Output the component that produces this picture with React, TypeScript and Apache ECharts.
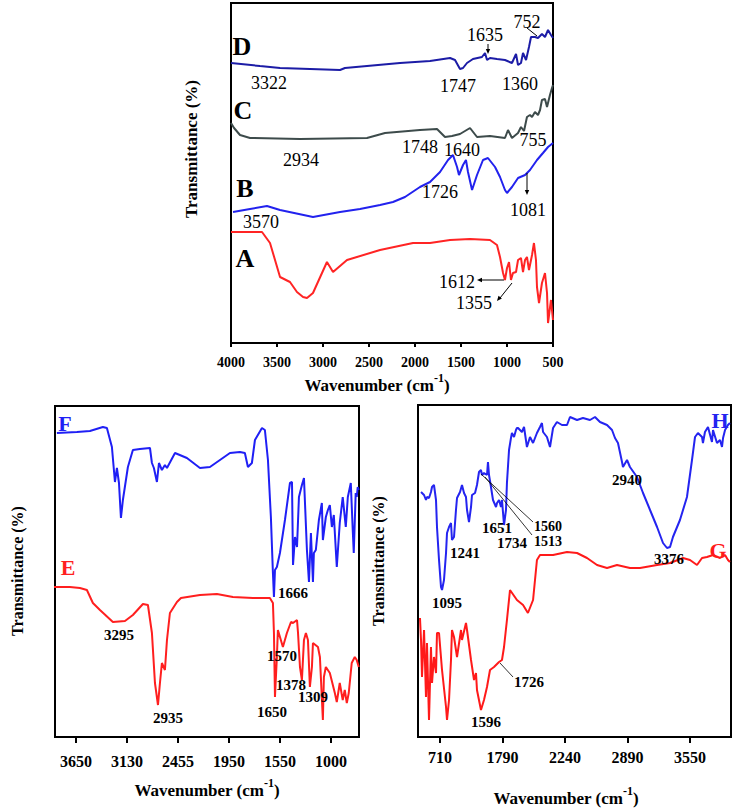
import React, { useEffect, useRef } from "react";
import * as echarts from "echarts";

// ---------- Top panel (linear axis, wavenumber 4000 -> 500) ----------
const TOP_TICKS = [4000, 3500, 3000, 2500, 2000, 1500, 1000, 500];

const SERIES_D = [[4000,280],[3685,277],[3467,275],[3141,274],[2815,273],[2761,275],[2163,280],[1837,282],[1619,285],[1565,283],[1511,274],[1478,275],[1435,280],[1370,284],[1272,286],[1239,290],[1217,283],[1185,285],[1109,284],[1022,283],[946,280],[902,289],[880,278],[848,280],[826,290],[793,283],[761,296],[739,306],[696,306],[663,305],[620,309],[587,306],[554,313],[522,308],[500,305]];
const SERIES_C = [[4000,220],[3967,215],[3902,208],[3793,205],[3250,204],[2522,205],[2326,210],[1946,213],[1761,214],[1674,206],[1598,207],[1511,209],[1402,215],[1326,206],[1185,207],[1022,205],[989,213],[946,205],[880,210],[848,216],[815,212],[783,226],[750,228],[728,226],[696,231],[663,228],[641,233],[620,243],[587,244],[565,236],[533,248],[511,255],[500,258]];
const SERIES_B = [[3978,131],[3793,134],[3609,137],[3467,133],[3109,126],[2815,131],[2598,134],[2380,138],[2239,141],[2109,146],[1946,156],[1837,161],[1728,171],[1641,183],[1587,188],[1543,176],[1522,168],[1478,178],[1446,183],[1424,171],[1380,153],[1326,168],[1261,183],[1207,185],[1130,176],[1076,166],[1022,153],[1000,150],[946,156],[880,165],[804,168],[750,173],[674,183],[609,190],[554,196],[500,200]];
const SERIES_A = [[4000,111],[3663,111],[3576,100],[3467,66],[3359,61],[3283,51],[3217,46],[3174,45],[3109,50],[2957,81],[2891,71],[2739,83],[2380,93],[2022,100],[1837,100],[1619,103],[1402,104],[1185,103],[1109,98],[1076,86],[1043,70],[1022,63],[1000,75],[978,81],[957,63],[935,70],[902,71],[880,83],[848,85],[826,71],[804,83],[783,86],[761,73],[728,88],[707,100],[685,83],[674,56],[652,40],[620,60],[587,70],[565,50],[554,20],[522,43],[500,23]];

// ---------- Bottom-left panel (tick labels evenly spaced) ----------
const LEFT_TICKS = [3650, 3130, 2455, 1950, 1550, 1000];

const SERIES_F = [[3844,304],[3640,305],[3507,306],[3375,310],[3334,309],[3283,290],[3252,255],[3232,269],[3211,254],[3191,219],[3171,237],[3117,270],[3051,287],[2958,288],[2825,289],[2799,274],[2773,269],[2733,255],[2706,274],[2667,267],[2627,272],[2600,269],[2494,284],[2366,279],[2237,269],[2138,270],[1942,284],[1864,285],[1825,284],[1801,270],[1770,274],[1746,297],[1691,309],[1668,307],[1644,277],[1621,220],[1605,164],[1597,140],[1589,167],[1574,170],[1550,184],[1496,217],[1442,254],[1420,255],[1409,172],[1388,200],[1366,190],[1345,240],[1313,252],[1291,259],[1259,187],[1237,155],[1216,204],[1194,155],[1184,184],[1163,187],[1130,217],[1098,234],[1087,197],[1055,220],[1033,227],[1012,232],[990,210],[969,222],[937,170],[905,214],[873,240],[840,210],[818,240],[786,254],[765,207],[754,184],[733,244],[722,240],[711,250],[700,247]];
const SERIES_E = [[3890,150],[3711,150],[3609,149],[3538,147],[3477,134],[3405,127],[3273,115],[3150,116],[3051,122],[2918,133],[2852,132],[2799,104],[2759,54],[2719,32],[2693,54],[2667,74],[2627,67],[2600,97],[2561,124],[2468,135],[2425,139],[2237,142],[2069,143],[1919,140],[1762,139],[1644,139],[1629,139],[1605,134],[1597,104],[1589,40],[1574,80],[1566,107],[1518,90],[1475,104],[1431,115],[1409,114],[1366,117],[1355,104],[1334,70],[1313,57],[1291,97],[1270,104],[1248,97],[1227,50],[1205,70],[1194,94],[1140,90],[1119,80],[1087,17],[1076,60],[1055,70],[1012,64],[958,44],[937,35],[905,54],[873,37],[851,47],[829,34],[808,44],[776,74],[743,80],[722,77],[700,70]];

// ---------- Bottom-right panel ----------
const RIGHT_TICKS = [710, 1790, 2240, 2890, 3550];

const SERIES_H = [[382,245],[434,242],[468,237],[485,240],[520,239],[554,245],[572,250],[606,252],[641,237],[658,210],[693,177],[727,150],[745,147],[779,157],[814,184],[831,204],[866,210],[900,214],[917,197],[952,200],[986,227],[1004,239],[1056,245],[1090,252],[1125,244],[1159,240],[1177,227],[1211,215],[1246,230],[1263,242],[1315,244],[1349,252],[1384,265],[1418,267],[1436,262],[1470,264],[1522,262],[1539,275],[1557,262],[1591,250],[1626,237],[1678,230],[1695,234],[1730,237],[1764,230],[1781,237],[1801,212],[1815,227],[1822,254],[1837,287],[1851,299],[1858,304],[1873,300],[1887,307],[1894,309],[1902,309],[1930,305],[1945,310],[1966,290],[1988,300],[2010,294],[2038,304],[2060,310],[2074,314],[2082,305],[2110,300],[2132,290],[2154,309],[2182,315],[2218,312],[2261,312],[2292,320],[2365,317],[2427,319],[2500,317],[2552,320],[2604,315],[2677,312],[2729,307],[2760,299],[2791,294],[2833,275],[2843,270],[2885,277],[2916,270],[2990,260],[3054,244],[3128,227],[3202,210],[3265,194],[3307,189],[3339,190],[3370,200],[3444,217],[3518,240],[3571,277],[3603,300],[3634,304],[3677,300],[3687,294],[3708,305],[3740,310],[3782,295],[3793,307],[3835,294],[3867,297],[3888,290],[3899,299],[3920,307],[3951,312],[3972,314]];
const SERIES_G = [[364,119],[382,97],[399,60],[434,107],[468,40],[485,94],[520,17],[554,90],[572,54],[606,80],[641,64],[658,104],[693,104],[745,67],[814,30],[831,17],[866,37],[900,77],[917,107],[952,100],[1004,80],[1073,107],[1090,97],[1159,114],[1177,107],[1246,77],[1298,57],[1332,64],[1349,47],[1418,27],[1470,37],[1522,50],[1574,67],[1643,70],[1730,75],[1781,77],[1801,90],[1822,117],[1844,147],[1894,137],[1938,132],[1973,124],[2010,137],[2038,177],[2060,182],[2154,182],[2261,185],[2365,184],[2469,179],[2573,172],[2677,169],[2781,172],[2916,169],[3022,169],[3202,172],[3339,174],[3476,179],[3550,177],[3624,172],[3677,179],[3729,180],[3793,182],[3867,179],[3920,182],[3951,177],[3972,175]];

const SERIF = '"Liberation Serif", "Times New Roman", serif';

// piecewise-linear axis position of a wavenumber, given evenly spaced tick labels
function toPos(wn: number, ticks: number[]): number {
  const n = ticks.length;
  let s = -1;
  for (let i = 0; i < n - 1; i++) {
    if ((wn - ticks[i]) * (wn - ticks[i + 1]) <= 0) { s = i; break; }
  }
  if (s < 0) s = Math.abs(wn - ticks[0]) < Math.abs(wn - ticks[n - 1]) ? 0 : n - 2;
  return s + (wn - ticks[s]) / (ticks[s + 1] - ticks[s]);
}

function txt(text: string, x: number, y: number, size: number, bold: boolean, color = "#000") {
  return {
    type: "text", x, y, z: 100,
    style: { text, fill: color, fontSize: size, fontWeight: bold ? "bold" : "normal", fontFamily: SERIF, align: "center", verticalAlign: "middle" },
  };
}
function ln(x1: number, y1: number, x2: number, y2: number, w = 1) {
  return { type: "line", z: 100, shape: { x1, y1, x2, y2 }, style: { stroke: "#000", lineWidth: w } };
}
function head(tx: number, ty: number, fx: number, fy: number) {
  const dx = tx - fx, dy = ty - fy;
  const L = Math.hypot(dx, dy) || 1;
  const ux = dx / L, uy = dy / L;
  const len = 5, wid = 2.2;
  const bx = tx - ux * len, by = ty - uy * len;
  return {
    type: "polygon", z: 100,
    shape: { points: [[tx, ty], [bx - uy * wid, by + ux * wid], [bx + uy * wid, by - ux * wid]] },
    style: { fill: "#000" },
  };
}
function axisTitle(x: number, y: number) {
  return {
    type: "text", x, y, z: 100,
    style: {
      text: "{a|Wavenumber (cm}{s|-1}{a|)}",
      align: "center", verticalAlign: "middle",
      rich: {
        a: { fontSize: 17, fontWeight: "bold", fontFamily: SERIF, fill: "#000", color: "#000", lineHeight: 22, verticalAlign: "bottom" },
        s: { fontSize: 12, fontWeight: "bold", fontFamily: SERIF, fill: "#000", color: "#000", lineHeight: 22, verticalAlign: "top" },
      },
    },
  };
}
function yTitle(x: number, y: number, size = 16) {
  return {
    type: "text", x, y, z: 100, rotation: Math.PI / 2,
    style: { text: "Transmittance (%)", fill: "#000", fontSize: size, fontWeight: "bold", fontFamily: SERIF, align: "center", verticalAlign: "middle" },
  };
}

function lineSeries(name: string, data: number[][], color: string, idx: number) {
  return {
    name, type: "line", xAxisIndex: idx, yAxisIndex: idx, data,
    showSymbol: false, symbol: "none", smooth: false,
    lineStyle: { color, width: 2 }, itemStyle: { color },
  };
}

export default function App() {
  const ref = useRef<HTMLDivElement>(null);
  useEffect(() => {
    if (!ref.current) return;
    const chart = echarts.init(ref.current, null, { renderer: "svg" });

    const axisLine = { show: true, onZero: false, lineStyle: { color: "#000", width: 2 } };
    const leftIdx = LEFT_TICKS.map((_, i) => i);
    const rightIdx = RIGHT_TICKS.map((_, i) => i);
    const mapL = (arr: number[][]) => arr.map(([w, t]) => [toPos(w, LEFT_TICKS), t]);
    const mapR = (arr: number[][]) => arr.map(([w, t]) => [toPos(w, RIGHT_TICKS), t]);

    const option: any = {
      animation: false,
      backgroundColor: "#fff",
      grid: [
        { left: 231, top: 3, width: 322, height: 340, show: true, borderColor: "#000", borderWidth: 2, backgroundColor: "transparent" },
        { left: 55, top: 406, width: 304, height: 331, show: true, borderColor: "#000", borderWidth: 2, backgroundColor: "transparent" },
        { left: 418, top: 405, width: 313, height: 332, show: true, borderColor: "#000", borderWidth: 2, backgroundColor: "transparent" },
      ],
      xAxis: [
        {
          type: "value", gridIndex: 0, min: 500, max: 4000, interval: 500, inverse: true,
          axisLine, splitLine: { show: false },
          axisTick: { show: true, inside: false, length: 4, lineStyle: { color: "#000", width: 2 } },
          axisLabel: { margin: 12, color: "#000", fontSize: 14, fontWeight: "bold", fontFamily: SERIF, formatter: (v: number) => (TOP_TICKS.indexOf(v) >= 0 ? String(v) : "") },
        },
        {
          type: "value", gridIndex: 1, min: -0.41, max: 5.55,
          axisLine, splitLine: { show: false },
          axisTick: { show: true, inside: false, length: 6, customValues: leftIdx, lineStyle: { color: "#000", width: 2 } },
          axisLabel: { margin: 16, customValues: leftIdx, color: "#000", fontSize: 16, fontWeight: "bold", fontFamily: SERIF, formatter: (v: number) => String(LEFT_TICKS[Math.round(v)] ?? "") },
        },
        {
          type: "value", gridIndex: 2, min: -0.352, max: 4.656,
          axisLine, splitLine: { show: false },
          axisTick: { show: true, inside: false, length: 6, customValues: rightIdx, lineStyle: { color: "#000", width: 2 } },
          axisLabel: { margin: 12, customValues: rightIdx, color: "#000", fontSize: 16, fontWeight: "bold", fontFamily: SERIF, formatter: (v: number) => String(RIGHT_TICKS[Math.round(v)] ?? "") },
        },
      ],
      yAxis: [
        { type: "value", gridIndex: 0, min: 0, max: 340, show: false },
        { type: "value", gridIndex: 1, min: 0, max: 331, show: false },
        { type: "value", gridIndex: 2, min: 0, max: 332, show: false },
      ],
      series: [
        lineSeries("D", SERIES_D, "#1c1ca6", 0),
        lineSeries("C", SERIES_C, "#3d4b4b", 0),
        lineSeries("B", SERIES_B, "#2222ee", 0),
        lineSeries("A", SERIES_A, "#ff2424", 0),
        lineSeries("F", mapL(SERIES_F), "#1f1ff5", 1),
        lineSeries("E", mapL(SERIES_E), "#ff1f1f", 1),
        lineSeries("H", mapR(SERIES_H), "#2424f0", 2),
        lineSeries("G", mapR(SERIES_G), "#ff1a1a", 2),
      ],
      graphic: [
        // top panel
        txt("D", 242, 46, 26, true), txt("C", 243, 110, 26, true), txt("B", 245, 188, 26, true), txt("A", 245, 258, 26, true),
        txt("3322", 269, 83, 18, false), txt("1747", 458, 86, 18, false), txt("1360", 520, 84, 18, false),
        txt("1635", 485, 35, 18, false), txt("752", 527, 22, 18, false),
        txt("2934", 301, 160, 18, false), txt("1748", 420, 147, 18, false), txt("1640", 462, 150, 18, false), txt("755", 533, 140, 18, false),
        txt("3570", 261, 222, 18, false), txt("1726", 440, 192, 18, false), txt("1081", 528, 210, 18, false),
        txt("1612", 457, 282, 18, false), txt("1355", 474, 303, 18, false),
        ln(488, 44, 488, 52), head(488, 54, 488, 44),
        ln(527, 28, 537, 36),
        ln(527, 173, 527, 192), head(527, 195, 527, 173),
        ln(480, 280, 504, 280), head(477, 280, 504, 280),
        ln(512, 283, 500, 298), head(497, 301, 512, 283),
        yTitle(191, 149, 17), axisTitle(377, 383),
        // bottom-left panel
        txt("F", 65, 423, 22, true, "#1f1ff5"), txt("E", 68, 567, 22, true, "#ff1f1f"),
        txt("1666", 293, 593, 15, true), txt("3295", 119, 635, 15, true), txt("2935", 168, 718, 15, true),
        txt("1570", 282, 656, 15, true), txt("1378", 291, 685, 15, true), txt("1309", 313, 697, 15, true), txt("1650", 272, 712, 15, true),
        yTitle(17, 571), axisTitle(207, 788),
        // bottom-right panel
        txt("H", 720, 420, 22, true, "#2424f0"), txt("G", 718, 550, 22, true, "#ff1a1a"),
        txt("2940", 627, 480, 15, true), txt("3376", 669, 559, 15, true), txt("1095", 447, 603, 15, true),
        txt("1241", 465, 553, 15, true), txt("1651", 497, 528, 15, true), txt("1734", 512, 543, 15, true),
        txt("1560", 548, 526, 14, true), txt("1513", 548, 541, 14, true),
        txt("1726", 529, 682, 15, true), txt("1596", 486, 722, 15, true),
        ln(481, 474, 533, 522, 0.8), ln(485, 477, 532, 535, 0.8), ln(500, 663, 513, 677, 0.8),
        yTitle(378, 561), axisTitle(566, 796),
      ],
    };
    chart.setOption(option);
    return () => chart.dispose();
  }, []);
  return <div ref={ref} style={{ position: "fixed", left: 0, top: 0, width: 734, height: 810, background: "#fff" }} />;
}
